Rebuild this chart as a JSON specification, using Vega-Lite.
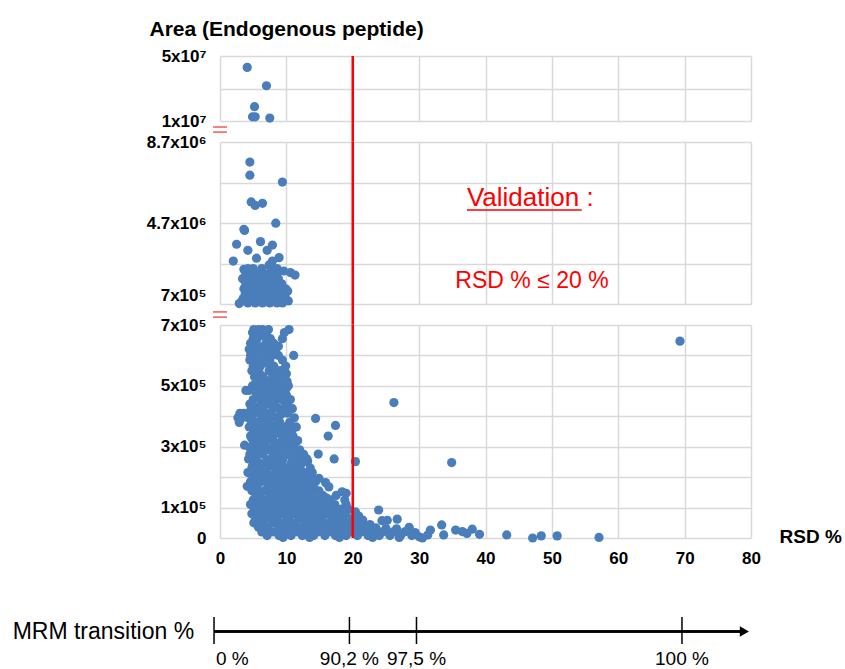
{
  "$schema": "https://vega.github.io/schema/vega-lite/v6.json",
  "background": "white",
  "padding": {"left": 12, "top": 18, "right": 2, "bottom": 0},
  "config": {"view": {"stroke": null}, "font": "Liberation Sans"},
  "bounds": "flush",
  "spacing": 21,
  "datasets": {
    "pts": [
      {"rsd":4.1,"area":43000000},{"rsd":7.0,"area":31700000},{"rsd":5.2,"area":18800000},{"rsd":4.9,"area":12600000},{"rsd":5.3,"area":12600000},{"rsd":7.5,"area":11800000},
      {"rsd":4.5,"area":7710000},{"rsd":4.5,"area":7060000},{"rsd":9.4,"area":6720000},{"rsd":4.7,"area":5740000},{"rsd":5.3,"area":5570000},{"rsd":6.4,"area":5670000},{"rsd":8.4,"area":4690000},{"rsd":3.6,"area":4390000},{"rsd":3.7,"area":4330000},{"rsd":2.5,"area":3650000},{"rsd":4.2,"area":3350000},{"rsd":6.1,"area":3780000},{"rsd":7.9,"area":3610000},{"rsd":7.1,"area":3350000},{"rsd":2.0,"area":2820000},{"rsd":5.5,"area":2960000},{"rsd":8.9,"area":2990000},{"rsd":7.4,"area":2630000},{"rsd":7.9,"area":2820000},{"rsd":3.6,"area":2410000},{"rsd":9.6,"area":2330000},{"rsd":10.6,"area":2250000},{"rsd":11.3,"area":2130000},{"rsd":2.9,"area":720000},{"rsd":10.2,"area":1340000},
      {"rsd":4.2,"area":2450000},{"rsd":5.0,"area":2450000},{"rsd":6.3,"area":2450000},{"rsd":7.7,"area":2450000},{"rsd":8.6,"area":2450000},
      {"rsd":3.9,"area":2200000},{"rsd":5.3,"area":2200000},{"rsd":6.6,"area":2200000},{"rsd":7.5,"area":2200000},{"rsd":8.5,"area":2200000},
      {"rsd":4.6,"area":2080000},{"rsd":6.0,"area":2080000},{"rsd":7.1,"area":2080000},{"rsd":8.0,"area":2080000},
      {"rsd":3.4,"area":1950000},{"rsd":4.5,"area":1950000},{"rsd":5.7,"area":1950000},{"rsd":6.8,"area":1950000},{"rsd":7.9,"area":1950000},{"rsd":8.8,"area":1950000},
      {"rsd":3.8,"area":1820000},{"rsd":5.0,"area":1820000},{"rsd":6.2,"area":1820000},{"rsd":7.4,"area":1820000},{"rsd":8.2,"area":1820000},
      {"rsd":3.9,"area":1700000},{"rsd":5.1,"area":1700000},{"rsd":6.2,"area":1700000},{"rsd":7.3,"area":1700000},{"rsd":8.4,"area":1700000},{"rsd":9.3,"area":1700000},
      {"rsd":4.4,"area":1580000},{"rsd":5.6,"area":1580000},{"rsd":6.8,"area":1580000},{"rsd":7.9,"area":1580000},{"rsd":8.9,"area":1580000},
      {"rsd":3.6,"area":1450000},{"rsd":4.6,"area":1450000},{"rsd":5.6,"area":1450000},{"rsd":6.7,"area":1450000},{"rsd":7.8,"area":1450000},{"rsd":8.9,"area":1450000},{"rsd":9.9,"area":1450000},
      {"rsd":4.1,"area":1330000},{"rsd":5.1,"area":1330000},{"rsd":6.2,"area":1330000},{"rsd":7.3,"area":1330000},{"rsd":8.4,"area":1330000},{"rsd":9.5,"area":1330000},
      {"rsd":3.8,"area":1200000},{"rsd":4.9,"area":1200000},{"rsd":6.0,"area":1200000},{"rsd":7.1,"area":1200000},{"rsd":8.2,"area":1200000},{"rsd":9.3,"area":1200000},
      {"rsd":4.3,"area":1100000},{"rsd":5.4,"area":1100000},{"rsd":6.5,"area":1100000},{"rsd":7.6,"area":1100000},{"rsd":8.7,"area":1100000},{"rsd":9.8,"area":1100000},
      {"rsd":3.5,"area":970000},{"rsd":4.4,"area":970000},{"rsd":5.5,"area":970000},{"rsd":6.6,"area":970000},{"rsd":7.7,"area":970000},{"rsd":8.8,"area":970000},{"rsd":9.6,"area":970000},
      {"rsd":3.3,"area":850000},{"rsd":4.8,"area":850000},{"rsd":5.9,"area":850000},{"rsd":7.0,"area":850000},{"rsd":8.1,"area":850000},{"rsd":9.2,"area":850000},{"rsd":10.3,"area":850000},
      {"rsd":4.2,"area":750000},{"rsd":5.3,"area":750000},{"rsd":6.4,"area":750000},{"rsd":7.5,"area":750000},{"rsd":8.6,"area":750000},{"rsd":9.4,"area":750000},
      {"rsd":5.1,"area":685000},{"rsd":5.8,"area":685000},{"rsd":6.4,"area":685000},{"rsd":7.3,"area":685000},{"rsd":10.4,"area":685000},
      {"rsd":4.9,"area":675000},{"rsd":6.2,"area":675000},{"rsd":7.0,"area":675000},{"rsd":9.7,"area":675000},
      {"rsd":5.4,"area":665000},{"rsd":6.6,"area":665000},
      {"rsd":5.0,"area":655000},{"rsd":5.6,"area":655000},{"rsd":7.6,"area":655000},{"rsd":9.4,"area":655000},
      {"rsd":4.6,"area":640000},{"rsd":5.3,"area":640000},{"rsd":6.9,"area":640000},{"rsd":8.1,"area":640000},
      {"rsd":5.8,"area":630000},{"rsd":8.8,"area":630000},
      {"rsd":4.4,"area":620000},{"rsd":5.0,"area":620000},{"rsd":6.5,"area":620000},{"rsd":7.3,"area":620000},{"rsd":8.4,"area":620000},
      {"rsd":5.5,"area":610000},{"rsd":7.0,"area":610000},
      {"rsd":4.6,"area":600000},{"rsd":5.8,"area":600000},{"rsd":7.8,"area":600000},{"rsd":8.8,"area":600000},{"rsd":11.1,"area":600000},
      {"rsd":4.5,"area":585000},{"rsd":5.4,"area":585000},{"rsd":6.6,"area":585000},{"rsd":7.5,"area":585000},{"rsd":9.4,"area":585000},
      {"rsd":5.3,"area":575000},{"rsd":7.0,"area":575000},
      {"rsd":5.0,"area":565000},{"rsd":6.1,"area":565000},{"rsd":8.1,"area":565000},{"rsd":9.9,"area":565000},
      {"rsd":4.8,"area":550000},{"rsd":5.7,"area":550000},{"rsd":7.4,"area":550000},{"rsd":8.6,"area":550000},{"rsd":9.2,"area":550000},
      {"rsd":6.0,"area":540000},{"rsd":8.1,"area":540000},{"rsd":10.0,"area":540000},
      {"rsd":5.2,"area":530000},{"rsd":6.5,"area":530000},{"rsd":7.9,"area":530000},{"rsd":9.6,"area":530000},
      {"rsd":5.8,"area":522000},{"rsd":8.9,"area":522000},
      {"rsd":5.9,"area":515000},{"rsd":7.0,"area":515000},{"rsd":8.4,"area":515000},{"rsd":10.1,"area":515000},
      {"rsd":5.3,"area":507000},{"rsd":8.8,"area":507000},
      {"rsd":4.9,"area":500000},{"rsd":6.3,"area":500000},{"rsd":7.6,"area":500000},{"rsd":9.0,"area":500000},{"rsd":10.3,"area":500000},
      {"rsd":5.5,"area":492000},{"rsd":7.8,"area":492000},{"rsd":10.0,"area":492000},
      {"rsd":3.9,"area":485000},{"rsd":4.4,"area":485000},{"rsd":7.1,"area":485000},{"rsd":8.2,"area":485000},{"rsd":9.5,"area":485000},
      {"rsd":6.3,"area":478000},{"rsd":8.8,"area":478000},
      {"rsd":5.5,"area":470000},{"rsd":6.8,"area":470000},{"rsd":7.8,"area":470000},{"rsd":10.0,"area":470000},
      {"rsd":5.6,"area":462000},{"rsd":7.3,"area":462000},{"rsd":9.9,"area":462000},
      {"rsd":5.0,"area":455000},{"rsd":6.1,"area":455000},{"rsd":8.5,"area":455000},{"rsd":9.3,"area":455000},{"rsd":10.6,"area":455000},
      {"rsd":4.5,"area":440000},{"rsd":6.6,"area":440000},{"rsd":7.4,"area":440000},{"rsd":9.9,"area":440000},{"rsd":26.2,"area":445000},
      {"rsd":5.8,"area":432000},{"rsd":8.4,"area":432000},{"rsd":10.3,"area":432000},
      {"rsd":5.3,"area":425000},{"rsd":6.0,"area":425000},{"rsd":8.0,"area":425000},{"rsd":8.9,"area":425000},{"rsd":10.9,"area":425000},
      {"rsd":4.6,"area":418000},{"rsd":6.6,"area":418000},{"rsd":9.8,"area":418000},
      {"rsd":3.0,"area":410000},{"rsd":3.6,"area":410000},{"rsd":5.7,"area":410000},{"rsd":7.0,"area":410000},{"rsd":9.5,"area":410000},{"rsd":10.2,"area":410000},
      {"rsd":4.8,"area":402000},{"rsd":7.9,"area":402000},{"rsd":9.0,"area":402000},
      {"rsd":2.7,"area":395000},{"rsd":3.3,"area":395000},{"rsd":4.2,"area":395000},{"rsd":6.4,"area":395000},{"rsd":7.7,"area":395000},{"rsd":8.6,"area":395000},{"rsd":11.2,"area":395000},{"rsd":14.4,"area":393000},
      {"rsd":2.9,"area":380000},{"rsd":4.8,"area":380000},{"rsd":5.6,"area":380000},{"rsd":7.2,"area":380000},{"rsd":9.0,"area":380000},{"rsd":10.5,"area":380000},
      {"rsd":5.9,"area":372000},{"rsd":7.6,"area":372000},{"rsd":8.6,"area":372000},
      {"rsd":4.4,"area":365000},{"rsd":6.0,"area":365000},{"rsd":6.8,"area":365000},{"rsd":8.2,"area":365000},{"rsd":9.8,"area":365000},{"rsd":11.5,"area":365000},{"rsd":17.4,"area":370000},
      {"rsd":5.4,"area":357000},{"rsd":7.8,"area":357000},{"rsd":9.3,"area":357000},{"rsd":10.9,"area":357000},
      {"rsd":5.1,"area":350000},{"rsd":7.5,"area":350000},{"rsd":8.8,"area":350000},{"rsd":10.4,"area":350000},
      {"rsd":6.3,"area":342000},{"rsd":8.2,"area":342000},{"rsd":9.8,"area":342000},
      {"rsd":4.6,"area":335000},{"rsd":5.8,"area":335000},{"rsd":6.7,"area":335000},{"rsd":9.3,"area":335000},{"rsd":11.0,"area":335000},{"rsd":16.3,"area":335000},
      {"rsd":4.8,"area":327000},{"rsd":7.6,"area":327000},{"rsd":10.6,"area":327000},
      {"rsd":5.3,"area":320000},{"rsd":7.1,"area":320000},{"rsd":8.0,"area":320000},{"rsd":9.9,"area":320000},{"rsd":11.7,"area":320000},
      {"rsd":6.0,"area":312000},{"rsd":8.9,"area":312000},{"rsd":10.8,"area":312000},
      {"rsd":3.7,"area":305000},{"rsd":4.9,"area":305000},{"rsd":6.2,"area":305000},{"rsd":8.6,"area":305000},{"rsd":10.6,"area":305000},
      {"rsd":4.5,"area":297000},{"rsd":6.8,"area":297000},{"rsd":8.0,"area":297000},{"rsd":9.9,"area":297000},{"rsd":11.2,"area":297000},
      {"rsd":5.6,"area":290000},{"rsd":7.3,"area":290000},{"rsd":9.2,"area":290000},{"rsd":11.4,"area":290000},{"rsd":12.0,"area":290000},
      {"rsd":5.0,"area":282000},{"rsd":6.2,"area":282000},{"rsd":8.8,"area":282000},{"rsd":10.6,"area":282000},
      {"rsd":4.5,"area":275000},{"rsd":6.5,"area":275000},{"rsd":8.1,"area":275000},{"rsd":10.1,"area":275000},{"rsd":12.6,"area":275000},{"rsd":14.8,"area":276000},
      {"rsd":5.5,"area":267000},{"rsd":8.6,"area":267000},{"rsd":10.8,"area":267000},{"rsd":12.0,"area":267000},
      {"rsd":4.3,"area":260000},{"rsd":5.3,"area":260000},{"rsd":7.6,"area":260000},{"rsd":9.5,"area":260000},{"rsd":11.2,"area":260000},{"rsd":13.1,"area":260000},{"rsd":17.2,"area":260000},
      {"rsd":5.0,"area":252000},{"rsd":7.0,"area":252000},{"rsd":9.0,"area":252000},{"rsd":11.5,"area":252000},
      {"rsd":6.0,"area":245000},{"rsd":8.6,"area":245000},{"rsd":10.7,"area":245000},{"rsd":12.3,"area":245000},{"rsd":13.2,"area":251000},{"rsd":20.4,"area":251000},{"rsd":34.9,"area":248000},
      {"rsd":4.9,"area":237000},{"rsd":6.4,"area":237000},{"rsd":7.8,"area":237000},{"rsd":9.4,"area":237000},{"rsd":11.2,"area":237000},
      {"rsd":4.8,"area":230000},{"rsd":5.8,"area":230000},{"rsd":7.0,"area":230000},{"rsd":9.9,"area":230000},{"rsd":11.8,"area":230000},{"rsd":13.6,"area":230000},
      {"rsd":5.2,"area":222000},{"rsd":6.8,"area":222000},{"rsd":8.7,"area":222000},{"rsd":10.9,"area":222000},{"rsd":12.2,"area":222000},
      {"rsd":4.2,"area":215000},{"rsd":6.6,"area":215000},{"rsd":8.3,"area":215000},{"rsd":10.4,"area":215000},{"rsd":12.6,"area":215000},{"rsd":13.9,"area":215000},
      {"rsd":5.8,"area":207000},{"rsd":7.6,"area":207000},{"rsd":9.4,"area":207000},{"rsd":11.6,"area":207000},{"rsd":13.3,"area":207000},
      {"rsd":5.2,"area":200000},{"rsd":7.5,"area":200000},{"rsd":9.4,"area":200000},{"rsd":11.3,"area":200000},{"rsd":12.9,"area":200000},{"rsd":14.9,"area":196000},
      {"rsd":4.9,"area":192000},{"rsd":6.6,"area":192000},{"rsd":8.3,"area":192000},{"rsd":10.2,"area":192000},{"rsd":12.0,"area":192000},{"rsd":13.8,"area":192000},
      {"rsd":4.6,"area":185000},{"rsd":6.2,"area":185000},{"rsd":8.7,"area":185000},{"rsd":10.8,"area":185000},{"rsd":12.2,"area":185000},{"rsd":14.4,"area":185000},{"rsd":15.9,"area":182000},
      {"rsd":5.5,"area":177000},{"rsd":7.3,"area":177000},{"rsd":9.6,"area":177000},{"rsd":11.3,"area":177000},{"rsd":13.1,"area":177000},
      {"rsd":4.1,"area":170000},{"rsd":5.6,"area":170000},{"rsd":7.9,"area":170000},{"rsd":10.0,"area":170000},{"rsd":11.7,"area":170000},{"rsd":13.4,"area":170000},{"rsd":16.4,"area":168000},
      {"rsd":5.2,"area":162000},{"rsd":7.1,"area":162000},{"rsd":8.9,"area":162000},{"rsd":10.6,"area":162000},{"rsd":12.3,"area":162000},{"rsd":14.2,"area":162000},
      {"rsd":4.8,"area":155000},{"rsd":6.7,"area":155000},{"rsd":9.2,"area":155000},{"rsd":11.0,"area":155000},{"rsd":12.8,"area":155000},{"rsd":14.9,"area":155000},{"rsd":18.4,"area":152000},{"rsd":19.0,"area":147000},
      {"rsd":5.8,"area":147000},{"rsd":8.0,"area":147000},{"rsd":9.9,"area":147000},{"rsd":11.7,"area":147000},{"rsd":13.5,"area":147000},
      {"rsd":5.5,"area":140000},{"rsd":7.4,"area":140000},{"rsd":8.6,"area":140000},{"rsd":10.4,"area":140000},{"rsd":12.1,"area":140000},{"rsd":13.7,"area":140000},{"rsd":15.5,"area":140000},{"rsd":17.5,"area":140000},
      {"rsd":6.1,"area":132000},{"rsd":7.8,"area":132000},{"rsd":9.3,"area":132000},{"rsd":11.0,"area":132000},{"rsd":12.7,"area":132000},{"rsd":14.2,"area":132000},{"rsd":16.0,"area":132000},
      {"rsd":5.0,"area":125000},{"rsd":6.3,"area":125000},{"rsd":8.0,"area":125000},{"rsd":9.7,"area":125000},{"rsd":11.5,"area":125000},{"rsd":13.0,"area":125000},{"rsd":14.6,"area":125000},{"rsd":16.6,"area":125000},{"rsd":18.8,"area":125000},
      {"rsd":5.3,"area":117000},{"rsd":7.0,"area":117000},{"rsd":8.5,"area":117000},{"rsd":10.2,"area":117000},{"rsd":12.0,"area":117000},{"rsd":13.5,"area":117000},{"rsd":15.3,"area":117000},
      {"rsd":4.6,"area":110000},{"rsd":5.9,"area":110000},{"rsd":7.2,"area":110000},{"rsd":8.9,"area":110000},{"rsd":10.8,"area":110000},{"rsd":12.4,"area":110000},{"rsd":14.0,"area":110000},{"rsd":15.8,"area":110000},{"rsd":17.3,"area":110000},{"rsd":19.0,"area":110000},
      {"rsd":5.5,"area":102000},{"rsd":7.9,"area":102000},{"rsd":9.5,"area":102000},{"rsd":11.3,"area":102000},{"rsd":13.0,"area":102000},{"rsd":14.8,"area":102000},{"rsd":16.5,"area":102000},
      {"rsd":5.2,"area":95000},{"rsd":6.6,"area":95000},{"rsd":8.3,"area":95000},{"rsd":10.1,"area":95000},{"rsd":11.8,"area":95000},{"rsd":13.4,"area":95000},{"rsd":15.1,"area":95000},{"rsd":16.7,"area":95000},{"rsd":18.3,"area":95000},{"rsd":19.3,"area":95000},
      {"rsd":23.9,"area":92000},{"rsd":20.4,"area":86000},
      {"rsd":5.9,"area":87000},{"rsd":7.3,"area":87000},{"rsd":9.0,"area":87000},{"rsd":10.9,"area":87000},{"rsd":12.4,"area":87000},{"rsd":14.1,"area":87000},{"rsd":16.2,"area":87000},{"rsd":17.9,"area":87000},
      {"rsd":4.8,"area":80000},{"rsd":6.0,"area":80000},{"rsd":7.5,"area":80000},{"rsd":9.3,"area":80000},{"rsd":11.1,"area":80000},{"rsd":12.7,"area":80000},{"rsd":14.4,"area":80000},{"rsd":16.0,"area":80000},{"rsd":17.6,"area":80000},{"rsd":19.0,"area":80000},{"rsd":20.9,"area":72000},
      {"rsd":5.5,"area":72000},{"rsd":8.3,"area":72000},{"rsd":10.2,"area":72000},{"rsd":11.9,"area":72000},{"rsd":13.8,"area":72000},{"rsd":15.2,"area":72000},{"rsd":17.0,"area":72000},{"rsd":18.4,"area":72000},
      {"rsd":5.4,"area":65000},{"rsd":6.9,"area":65000},{"rsd":8.6,"area":65000},{"rsd":10.4,"area":65000},{"rsd":12.0,"area":65000},{"rsd":13.7,"area":65000},{"rsd":15.3,"area":65000},{"rsd":16.9,"area":65000},{"rsd":18.5,"area":65000},{"rsd":20.1,"area":65000},{"rsd":21.5,"area":59000},
      {"rsd":6.0,"area":57000},{"rsd":8.0,"area":57000},{"rsd":10.0,"area":57000},{"rsd":12.6,"area":57000},{"rsd":14.9,"area":57000},{"rsd":17.5,"area":57000},{"rsd":19.8,"area":57000},
      {"rsd":24.4,"area":57000},{"rsd":25.2,"area":58000},{"rsd":26.7,"area":62000},
      {"rsd":5.1,"area":50000},{"rsd":6.3,"area":50000},{"rsd":7.9,"area":50000},{"rsd":9.6,"area":50000},{"rsd":11.3,"area":50000},{"rsd":12.9,"area":50000},{"rsd":14.6,"area":50000},{"rsd":16.2,"area":50000},{"rsd":17.8,"area":50000},{"rsd":19.4,"area":50000},{"rsd":21.0,"area":47000},{"rsd":22.6,"area":44000},
      {"rsd":6.6,"area":42000},{"rsd":8.8,"area":42000},{"rsd":11.0,"area":42000},{"rsd":13.5,"area":42000},{"rsd":15.9,"area":42000},{"rsd":18.4,"area":42000},{"rsd":20.3,"area":42000},
      {"rsd":33.4,"area":43000},
      {"rsd":5.8,"area":35000},{"rsd":7.2,"area":35000},{"rsd":8.9,"area":35000},{"rsd":10.6,"area":35000},{"rsd":12.3,"area":35000},{"rsd":14.0,"area":35000},{"rsd":15.6,"area":35000},{"rsd":17.2,"area":35000},{"rsd":18.8,"area":35000},{"rsd":20.5,"area":35000},{"rsd":22.0,"area":35000},{"rsd":23.5,"area":33000},{"rsd":25.0,"area":31000},{"rsd":26.6,"area":30000},{"rsd":28.5,"area":35000},
      {"rsd":7.0,"area":27000},{"rsd":9.4,"area":27000},{"rsd":12.0,"area":27000},{"rsd":14.6,"area":27000},{"rsd":17.0,"area":27000},{"rsd":19.5,"area":27000},{"rsd":21.6,"area":27000},
      {"rsd":6.3,"area":20000},{"rsd":8.0,"area":20000},{"rsd":9.8,"area":20000},{"rsd":11.5,"area":20000},{"rsd":13.2,"area":20000},{"rsd":14.8,"area":20000},{"rsd":16.5,"area":20000},{"rsd":18.1,"area":20000},{"rsd":19.7,"area":20000},{"rsd":21.3,"area":20000},{"rsd":22.9,"area":20000},{"rsd":24.5,"area":20000},{"rsd":26.1,"area":20000},{"rsd":27.8,"area":20000},{"rsd":29.4,"area":18000},{"rsd":31.7,"area":26000},
      {"rsd":7.1,"area":8000},{"rsd":8.9,"area":8000},{"rsd":10.7,"area":8000},{"rsd":12.4,"area":8000},{"rsd":14.1,"area":8000},{"rsd":15.8,"area":8000},{"rsd":17.4,"area":8000},{"rsd":19.0,"area":8000},{"rsd":20.7,"area":8000},{"rsd":22.3,"area":8000},{"rsd":24.0,"area":8000},{"rsd":25.6,"area":8000},{"rsd":27.2,"area":8000},{"rsd":28.9,"area":8000},{"rsd":30.0,"area":4000},{"rsd":31.3,"area":10000},{"rsd":33.7,"area":10000},
      {"rsd":9.5,"area":2000},{"rsd":13.5,"area":2000},{"rsd":18.0,"area":2000},{"rsd":23.0,"area":2000},{"rsd":27.0,"area":2000},{"rsd":30.5,"area":0},{"rsd":57.1,"area":2000},
      {"rsd":35.5,"area":26000},{"rsd":36.5,"area":21000},{"rsd":37.2,"area":15000},{"rsd":38.0,"area":29000},{"rsd":39.1,"area":12000},{"rsd":43.2,"area":10000},{"rsd":47.1,"area":0},{"rsd":48.4,"area":7000},{"rsd":50.8,"area":7000},{"rsd":69.3,"area":647000}
    ],
    "mrm": [
      {"pos": -0.9, "label": "0 %"},
      {"pos": 19.5, "label": "90,2 %"},
      {"pos": 29.6, "label": "97,5 %"},
      {"pos": 69.6, "label": "100 %"}
    ]
  },
  "vconcat": [
    {
      "width": 531,
      "height": 65,
      "layer": [
        {
          "data": {"name": "pts"},
          "transform": [{"filter": "datum.area >= 10000000"}],
          "mark": {"type": "circle", "size": 85, "color": "#4a7ebb", "opacity": 1},
          "encoding": {
            "x": {"field": "rsd", "type": "quantitative", "scale": {"domain": [0, 80], "nice": false, "zero": false},
              "axis": {"values": [0,10,20,30,40,50,60,70,80], "tickCount": 50, "labels": false, "ticks": false, "domain": false, "title": null, "grid": true, "gridColor": "#d9d9d9", "gridWidth": 1.5}},
            "y": {"field": "area", "type": "quantitative", "scale": {"domain": [10000000, 50000000], "nice": false, "zero": false},
              "axis": {"values": [10000000, 30000000, 50000000], "tickCount": 50, "grid": true, "gridColor": "#d9d9d9", "gridWidth": 1.5, "ticks": false, "domain": false, "labelOverlap": false,
                "labelExpr": "datum.value == 50000000 ? '5x10⁷' : datum.value == 10000000 ? '1x10⁷' : ''",
                "labelFontSize": 17, "labelFontWeight": "bold", "labelColor": "#000000", "labelPadding": 14,
                "title": "Area (Endogenous peptide)", "titleAngle": 0, "titleX": -71, "titleY": -21, "titleAlign": "left", "titleBaseline": "alphabetic",
                "titleFontSize": 21, "titleFontWeight": "bold", "titleColor": "#000000"}}
          }
        },
        {
          "data": {"values": [{}]},
          "mark": {"type": "rule", "color": "#ff0000", "strokeWidth": 2.5},
          "encoding": {
            "x": {"datum": 20, "type": "quantitative", "scale": {"domain": [0, 80], "nice": false, "zero": false}},
            "y": {"datum": 50000000, "type": "quantitative", "scale": {"domain": [10000000, 50000000], "nice": false, "zero": false}},
            "y2": {"datum": -2920000}}
        }
      ]
    },
    {
      "width": 531,
      "height": 162,
      "layer": [
        {
          "data": {"name": "pts"},
          "transform": [{"filter": "datum.area > 700000 && datum.area < 10000000"}],
          "mark": {"type": "circle", "size": 85, "color": "#4a7ebb", "opacity": 1},
          "encoding": {
            "x": {"field": "rsd", "type": "quantitative", "scale": {"domain": [0, 80], "nice": false, "zero": false},
              "axis": {"values": [0,10,20,30,40,50,60,70,80], "tickCount": 50, "labels": false, "ticks": false, "domain": false, "title": null, "grid": true, "gridColor": "#d9d9d9", "gridWidth": 1.5}},
            "y": {"field": "area", "type": "quantitative", "scale": {"domain": [700000, 8700000], "nice": false, "zero": false},
              "axis": {"values": [700000, 2700000, 4700000, 6700000, 8700000], "tickCount": 50, "grid": true, "gridColor": "#d9d9d9", "gridWidth": 1.5, "ticks": false, "domain": false, "labelOverlap": false,
                "labelExpr": "datum.value == 8700000 ? '8.7x10⁶' : datum.value == 4700000 ? '4.7x10⁶' : datum.value == 700000 ? '7x10⁵' : ''",
                "labelOffset": {"condition": {"test": "datum.value == 700000", "value": -9}, "value": 0},
                "labelFontSize": 17, "labelFontWeight": "bold", "labelColor": "#000000", "labelPadding": 14, "title": null}}
          }
        },
        {
          "data": {"values": [{}]},
          "mark": {"type": "rule", "color": "#ff0000", "strokeWidth": 2.5},
          "encoding": {
            "x": {"datum": 20, "type": "quantitative", "scale": {"domain": [0, 80], "nice": false, "zero": false}},
            "y": {"datum": 8700000, "type": "quantitative", "scale": {"domain": [700000, 8700000], "nice": false, "zero": false}},
            "y2": {"datum": -337000}}
        },
        {
          "data": {"values": [{}]},
          "mark": {"type": "rule", "color": "#f05a5a", "strokeWidth": 1.5},
          "encoding": {
            "x": {"datum": -1.05, "type": "quantitative", "scale": {"domain": [0, 80], "nice": false, "zero": false}},
            "x2": {"datum": 1.05},
            "y": {"datum": 9440000, "type": "quantitative", "scale": {"domain": [700000, 8700000], "nice": false, "zero": false}}}
        },
        {
          "data": {"values": [{}]},
          "mark": {"type": "rule", "color": "#f05a5a", "strokeWidth": 1.5},
          "encoding": {
            "x": {"datum": -1.05, "type": "quantitative", "scale": {"domain": [0, 80], "nice": false, "zero": false}},
            "x2": {"datum": 1.05},
            "y": {"datum": 9190000, "type": "quantitative", "scale": {"domain": [700000, 8700000], "nice": false, "zero": false}}}
        },
        {
          "data": {"values": [{}]},
          "mark": {"type": "text", "text": "Validation :", "color": "#ff0000", "fontSize": 26, "align": "left", "baseline": "alphabetic"},
          "encoding": {
            "x": {"datum": 37.2, "type": "quantitative", "scale": {"domain": [0, 80], "nice": false, "zero": false}},
            "y": {"datum": 5540000, "type": "quantitative", "scale": {"domain": [700000, 8700000], "nice": false, "zero": false}}}
        },
        {
          "data": {"values": [{}]},
          "mark": {"type": "rule", "color": "#ff0000", "strokeWidth": 1.5},
          "encoding": {
            "x": {"datum": 37.2, "type": "quantitative", "scale": {"domain": [0, 80], "nice": false, "zero": false}},
            "x2": {"datum": 54.5},
            "y": {"datum": 5340000, "type": "quantitative", "scale": {"domain": [700000, 8700000], "nice": false, "zero": false}}}
        },
        {
          "data": {"values": [{}]},
          "mark": {"type": "text", "text": "RSD % ≤ 20 %", "color": "#ff0000", "fontSize": 23, "align": "center", "baseline": "alphabetic"},
          "encoding": {
            "x": {"datum": 47, "type": "quantitative", "scale": {"domain": [0, 80], "nice": false, "zero": false}},
            "y": {"datum": 1490000, "type": "quantitative", "scale": {"domain": [700000, 8700000], "nice": false, "zero": false}}}
        }
      ]
    },
    {
      "width": 531,
      "height": 213,
      "layer": [
        {
          "data": {"name": "pts"},
          "transform": [{"filter": "datum.area <= 700000"}],
          "mark": {"type": "circle", "size": 85, "color": "#4a7ebb", "opacity": 1},
          "encoding": {
            "x": {"field": "rsd", "type": "quantitative", "scale": {"domain": [0, 80], "nice": false, "zero": false},
              "axis": {"values": [0,10,20,30,40,50,60,70,80], "tickCount": 50, "ticks": false, "domain": false, "grid": true, "gridColor": "#d9d9d9", "gridWidth": 1.5, "labelOverlap": false,
                "labelFontSize": 17, "labelFontWeight": "bold", "labelColor": "#000000", "labelPadding": 12, "labelFlush": false,
                "title": "RSD %", "titleX": 559, "titleY": -2, "titleAlign": "left", "titleBaseline": "middle", "titleFontSize": 19, "titleFontWeight": "bold", "titleColor": "#000000"}},
            "y": {"field": "area", "type": "quantitative", "scale": {"domain": [0, 700000], "nice": false, "zero": false},
              "axis": {"values": [0, 100000, 200000, 300000, 400000, 500000, 600000, 700000], "tickCount": 50, "grid": true, "gridColor": "#d9d9d9", "gridWidth": 1.5, "ticks": false, "domain": false, "labelOverlap": false,
                "labelExpr": "datum.value == 0 ? '0' : datum.value == 100000 ? '1x10⁵' : datum.value == 300000 ? '3x10⁵' : datum.value == 500000 ? '5x10⁵' : datum.value == 700000 ? '7x10⁵' : ''",
                "labelFontSize": 17, "labelFontWeight": "bold", "labelColor": "#000000", "labelPadding": 14, "title": null}}
          }
        },
        {
          "data": {"values": [{}]},
          "mark": {"type": "rule", "color": "#ff0000", "strokeWidth": 2.5},
          "encoding": {
            "x": {"datum": 20, "type": "quantitative", "scale": {"domain": [0, 80], "nice": false, "zero": false}},
            "y": {"datum": 700000, "type": "quantitative", "scale": {"domain": [0, 700000], "nice": false, "zero": false}},
            "y2": {"datum": 0}}
        },
        {
          "data": {"values": [{}]},
          "mark": {"type": "rule", "color": "#f05a5a", "strokeWidth": 1.5},
          "encoding": {
            "x": {"datum": -1.05, "type": "quantitative", "scale": {"domain": [0, 80], "nice": false, "zero": false}},
            "x2": {"datum": 1.05},
            "y": {"datum": 743000, "type": "quantitative", "scale": {"domain": [0, 700000], "nice": false, "zero": false}}}
        },
        {
          "data": {"values": [{}]},
          "mark": {"type": "rule", "color": "#f05a5a", "strokeWidth": 1.5},
          "encoding": {
            "x": {"datum": -1.05, "type": "quantitative", "scale": {"domain": [0, 80], "nice": false, "zero": false}},
            "x2": {"datum": 1.05},
            "y": {"datum": 726000, "type": "quantitative", "scale": {"domain": [0, 700000], "nice": false, "zero": false}}}
        }
      ]
    },
    {
      "width": 531,
      "height": 100,
      "data": {"name": "mrm"},
      "layer": [
        {
          "mark": {"type": "rule", "color": "#000000", "strokeWidth": 2},
          "encoding": {
            "x": {"datum": -0.9, "type": "quantitative", "scale": {"domain": [0, 80], "nice": false, "zero": false}, "axis": null},
            "x2": {"datum": 78.5},
            "y": {"datum": 27.5, "type": "quantitative", "scale": {"domain": [0, 100], "nice": false, "zero": false}, "axis": null}
          }
        },
        {
          "mark": {"type": "rule", "color": "#000000", "strokeWidth": 1.5},
          "encoding": {
            "x": {"field": "pos", "type": "quantitative", "scale": {"domain": [0, 80], "nice": false, "zero": false}},
            "y": {"datum": 15, "type": "quantitative", "scale": {"domain": [0, 100], "nice": false, "zero": false}},
            "y2": {"datum": 42}
          }
        },
        {
          "data": {"values": [{}]},
          "mark": {"type": "point", "shape": "triangle-right", "filled": true, "color": "#000000", "size": 110, "opacity": 1},
          "encoding": {
            "x": {"datum": 79, "type": "quantitative", "scale": {"domain": [0, 80], "nice": false, "zero": false}},
            "y": {"datum": 27.5, "type": "quantitative", "scale": {"domain": [0, 100], "nice": false, "zero": false}}}
        },
        {
          "transform": [{"filter": "datum.pos < 0"}],
          "mark": {"type": "text", "fontSize": 19, "align": "left", "baseline": "middle", "dx": 2, "color": "#000000"},
          "encoding": {
            "x": {"field": "pos", "type": "quantitative", "scale": {"domain": [0, 80], "nice": false, "zero": false}},
            "y": {"datum": 0, "type": "quantitative", "scale": {"domain": [0, 100], "nice": false, "zero": false}},
            "text": {"field": "label"}}
        },
        {
          "transform": [{"filter": "datum.pos >= 0"}],
          "mark": {"type": "text", "fontSize": 19, "align": "center", "baseline": "middle", "color": "#000000"},
          "encoding": {
            "x": {"field": "pos", "type": "quantitative", "scale": {"domain": [0, 80], "nice": false, "zero": false}},
            "y": {"datum": 0, "type": "quantitative", "scale": {"domain": [0, 100], "nice": false, "zero": false}},
            "text": {"field": "label"}}
        },
        {
          "data": {"values": [{}]},
          "mark": {"type": "text", "text": "MRM transition %", "fontSize": 23, "align": "right", "baseline": "middle", "color": "#000000"},
          "encoding": {
            "x": {"datum": -3.9, "type": "quantitative", "scale": {"domain": [0, 80], "nice": false, "zero": false}},
            "y": {"datum": 27, "type": "quantitative", "scale": {"domain": [0, 100], "nice": false, "zero": false}}}
        }
      ]
    }
  ]
}
